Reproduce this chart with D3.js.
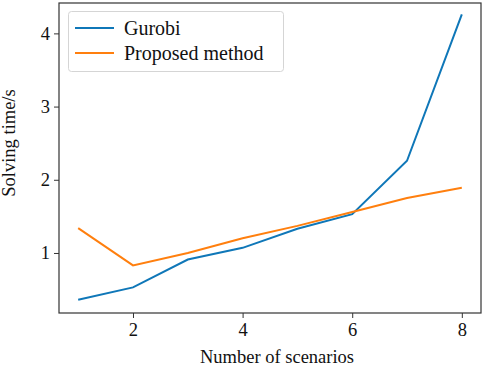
<!DOCTYPE html>
<html>
<head>
<meta charset="utf-8">
<script src="https://cdn.jsdelivr.net/npm/d3@7"></script>
<style>
  body { margin: 0; background: #fff; }
  text { font-family: "Liberation Serif", "Times New Roman", serif; fill: #111; }
</style>
</head>
<body>
<div id="chart"></div>
<script>
// Data.
const scenarios = [1, 2, 3, 4, 5, 6, 7, 8];
const gurobi = [0.36, 0.53, 0.91, 1.07, 1.33, 1.53, 2.26, 4.26];
const proposed = [1.34, 0.83, 1.00, 1.20, 1.37, 1.56, 1.75, 1.89];
const xTicks = [2, 4, 6, 8];
const yTicks = [1, 2, 3, 4];
const seriesNames = ['Gurobi', 'Proposed method'];
const seriesColors = ['#0f77b8', '#ff7f0e'];

const width = 484;
const height = 366;
const margin = { left: 59, right: 3, top: 3, bottom: 53 };

const svg = d3.select('#chart')
              .append('svg')
              .attr('width', width)
              .attr('height', height);

// Scales with matplotlib-ish 5% padding.
const x = d3.scaleLinear()
            .domain([0.65, 8.35])
            .range([margin.left, width - margin.right]);
const y = d3.scaleLinear()
            .domain([0.18, 4.415])
            .range([height - margin.bottom, margin.top]);

// Axes.
const xAxis = svg.append('g')
                 .attr('transform', 'translate(0,' + (height - margin.bottom) + ')')
                 .call(d3.axisBottom(x).tickValues(xTicks).tickSize(5).tickPadding(5).tickFormat(d3.format('d')));
const yAxis = svg.append('g')
                 .attr('transform', 'translate(' + margin.left + ',0)')
                 .call(d3.axisLeft(y).tickValues(yTicks).tickSize(5).tickPadding(4).tickFormat(d3.format('d')));

[xAxis, yAxis].forEach((g) => {
    g.select('.domain').remove();
    g.selectAll('line').attr('stroke', '#333').attr('stroke-width', 1);
    g.selectAll('text')
     .style('font-size', '18.5px')
     .style('font-family', '"Liberation Serif", serif')
     .attr('fill', '#111');
});

// Frame.
svg.append('rect')
   .attr('x', margin.left)
   .attr('y', margin.top)
   .attr('width', width - margin.left - margin.right)
   .attr('height', height - margin.top - margin.bottom)
   .attr('fill', 'none')
   .attr('stroke', '#333')
   .attr('stroke-width', 1.2);

// Lines.
const line = d3.line()
               .x((d, i) => x(scenarios[i]))
               .y((d) => y(d));

[gurobi, proposed].forEach((series, i) => {
    svg.append('path')
       .datum(series)
       .attr('d', line)
       .attr('fill', 'none')
       .attr('stroke', seriesColors[i])
       .attr('stroke-width', 2);
});

// Axis labels.
svg.append('text')
   .attr('x', 277)
   .attr('y', 363)
   .attr('text-anchor', 'middle')
   .style('font-size', '18.5px')
   .text('Number of scenarios');

svg.append('text')
   .attr('transform', 'translate(15,143) rotate(-90)')
   .attr('text-anchor', 'middle')
   .style('font-size', '18.5px')
   .text('Solving time/s');

// Legend.
const legend = svg.append('g');
legend.append('rect')
      .attr('x', 68.5)
      .attr('y', 11.5)
      .attr('width', 215)
      .attr('height', 60)
      .attr('rx', 3)
      .attr('fill', '#fff')
      .attr('stroke', '#d5d5d5')
      .attr('stroke-width', 1);

seriesNames.forEach((name, i) => {
    const ly = 28 + i * 25;
    legend.append('line')
          .attr('x1', 75)
          .attr('x2', 114)
          .attr('y1', ly)
          .attr('y2', ly)
          .attr('stroke', seriesColors[i])
          .attr('stroke-width', 2);
    legend.append('text')
          .attr('x', 124)
          .attr('y', ly + 6.5)
          .style('font-size', '20px')
          .text(name);
});
</script>
</body>
</html>
